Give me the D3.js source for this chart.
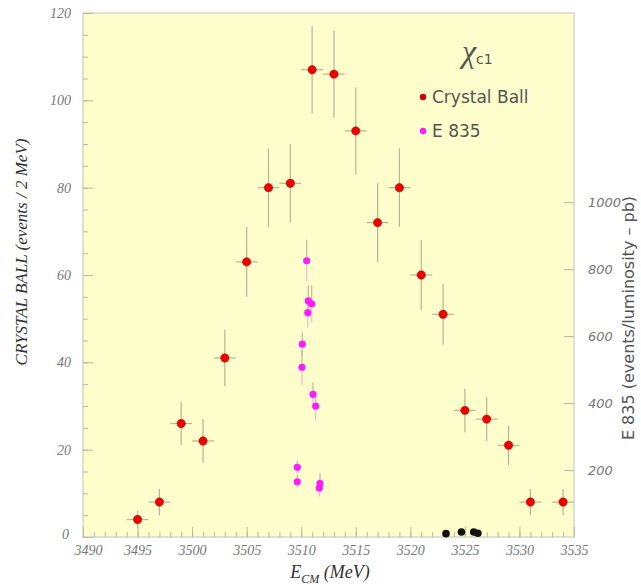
<!DOCTYPE html>
<html>
<head>
<meta charset="utf-8">
<script src="https://cdn.jsdelivr.net/npm/d3@7"></script>
<style>
  body { margin: 0; background: #fff; }
  svg { display: block; }
  .tick text { fill: #777; }
</style>
</head>
<body>
<div class="chart"></div>
<script>
// Crystal Ball: energy (MeV), events / 2 MeV, error
var cbEnergy = [3495, 3497, 3499, 3501, 3503, 3505, 3507, 3509, 3511, 3513, 3515, 3517, 3519, 3521, 3523, 3525, 3527, 3529, 3531, 3534];
var cbEvents = [4, 8, 26, 22, 41, 63, 80, 81, 107, 106, 93, 72, 80, 60, 51, 29, 27, 21, 8, 8];
var cbError  = [2, 3, 5, 5, 6.5, 8, 9, 9, 10, 10, 10, 9, 9, 8, 7, 5, 5, 4.5, 3, 3];

// E 835 scan: energy (MeV), events / luminosity (pb), error
var e835Energy = [3510.50, 3510.65, 3510.96, 3510.60, 3510.10, 3510.07, 3511.08, 3511.33, 3509.64, 3509.64, 3511.72, 3511.66];
var e835Value  = [825, 705, 696, 670, 576, 507, 426, 391, 208, 165, 160, 146];
var e835Error  = [63, 47, 55, 45, 35, 52, 36, 44, 20, 20, 30, 25];

// off-resonance points near the bottom
var offEnergy = [3523.27, 3524.68, 3525.81, 3526.19];
var offValue  = [10, 15, 15, 11];

var xTicks = [3490, 3495, 3500, 3505, 3510, 3515, 3520, 3525, 3530, 3535];
var yTicks = [0, 20, 40, 60, 80, 100, 120];
var y2Ticks = [200, 400, 600, 800, 1000];

var cb = cbEnergy.map(function(e, i) { return {e: e, v: cbEvents[i], err: cbError[i]}; });
var e835 = e835Energy.map(function(e, i) { return {e: e, v: e835Value[i], err: e835Error[i]}; });
var off = offEnergy.map(function(e, i) { return {e: e, v: offValue[i]}; });

var W = 641, H = 585;
var margin = {top: 13, right: 67, bottom: 48, left: 83};
var width = W - margin.left - margin.right;
var height = H - margin.top - margin.bottom;

var svg = d3.select(".chart").append("svg")
  .attr("width", W)
  .attr("height", H);

var g = svg.append("g")
  .attr("transform", "translate(" + margin.left + "," + margin.top + ")");

var x = d3.scaleLinear().domain([3490, 3535]).range([0, width]);
var y = d3.scaleLinear().domain([0, 120]).range([height, 0]);
var y2 = d3.scaleLinear().domain([0, 1565]).range([height, 0]);

// plot background
g.append("rect")
  .attr("width", width)
  .attr("height", height)
  .attr("fill", "#fefdcc")
  .attr("stroke", "#d6d6c8")
  .attr("stroke-width", 1.5);

var serif = "'Liberation Serif', 'DejaVu Serif', serif";
var sans = "'DejaVu Sans', 'Liberation Sans', sans-serif";
var fmt = d3.format("d");

// minor ticks
g.append("g")
  .call(d3.axisLeft(y).tickValues(d3.range(0, 121, 5)).tickSize(-5).tickFormat(""))
  .call(function(a) { a.select(".domain").remove(); a.selectAll("line").attr("stroke", "#b8b8a8"); });
g.append("g")
  .attr("transform", "translate(0," + height + ")")
  .call(d3.axisBottom(x).tickValues(d3.range(3490, 3536, 1)).tickSize(-5).tickFormat(""))
  .call(function(a) { a.select(".domain").remove(); a.selectAll("line").attr("stroke", "#b8b8a8"); });

// major axes
g.append("g")
  .call(d3.axisLeft(y).tickValues(yTicks).tickFormat(fmt).tickSizeInner(-10).tickSizeOuter(0).tickPadding(12))
  .call(function(a) {
    a.select(".domain").remove();
    a.selectAll("line").attr("stroke", "#b8b8a8");
    a.selectAll("text").attr("font-family", serif).attr("font-style", "italic").attr("font-size", 14);
    a.selectAll(".tick").filter(function(d) { return d === 0; }).select("text").attr("x", -14).attr("dy", "0.1em");
  });

g.append("g")
  .attr("transform", "translate(0," + height + ")")
  .call(d3.axisBottom(x).tickValues(xTicks).tickFormat(fmt).tickSizeInner(-10).tickSizeOuter(0).tickPadding(8))
  .call(function(a) {
    a.select(".domain").remove();
    a.selectAll("line").attr("stroke", "#b8b8a8");
    a.selectAll("text").attr("font-family", serif).attr("font-style", "italic").attr("font-size", 14);
    a.selectAll(".tick").filter(function(d) { return d === 3490; }).select("text").attr("x", 5);
  });

g.append("g")
  .attr("transform", "translate(" + width + ",0)")
  .call(d3.axisRight(y2).tickValues(y2Ticks).tickFormat(fmt).tickSizeInner(-10).tickSizeOuter(0).tickPadding(14))
  .call(function(a) {
    a.select(".domain").remove();
    a.selectAll("line").attr("stroke", "#b8b8a8");
    a.selectAll("text").attr("font-family", sans).attr("font-style", "italic").attr("font-size", 13).attr("fill", "#888");
  });

// Crystal Ball error bars
var cbBars = g.append("g").selectAll("g").data(cb).join("g");
cbBars.append("line")
  .attr("x1", function(d) { return x(d.e); })
  .attr("x2", function(d) { return x(d.e); })
  .attr("y1", function(d) { return y(d.v + d.err); })
  .attr("y2", function(d) { return y(d.v - d.err); })
  .attr("stroke", "#b8b596").attr("stroke-width", 1.2);
cbBars.append("line")
  .attr("x1", function(d) { return x(d.e - 1); })
  .attr("x2", function(d) { return x(d.e + 1); })
  .attr("y1", function(d) { return y(d.v); })
  .attr("y2", function(d) { return y(d.v); })
  .attr("stroke", "#b8b596").attr("stroke-width", 1.2);

// E835 error bars
var eBars = g.append("g").selectAll("g").data(e835).join("g");
eBars.append("line")
  .attr("x1", function(d) { return x(d.e); })
  .attr("x2", function(d) { return x(d.e); })
  .attr("y1", function(d) { return y2(d.v + d.err); })
  .attr("y2", function(d) { return y2(d.v); })
  .attr("stroke", "#bcb89e").attr("stroke-width", 1.2);
eBars.append("line")
  .attr("x1", function(d) { return x(d.e); })
  .attr("x2", function(d) { return x(d.e); })
  .attr("y1", function(d) { return y2(d.v); })
  .attr("y2", function(d) { return y2(d.v - d.err); })
  .attr("stroke", "#f4b8d8").attr("stroke-width", 1.2);

// markers
g.append("g").selectAll("circle").data(cb).join("circle")
  .attr("cx", function(d) { return x(d.e); })
  .attr("cy", function(d) { return y(d.v); })
  .attr("r", 4.2)
  .attr("fill", "#ec0000")
  .attr("stroke", "#b00000").attr("stroke-width", 0.5);

g.append("g").selectAll("circle").data(e835).join("circle")
  .attr("cx", function(d) { return x(d.e); })
  .attr("cy", function(d) { return y2(d.v); })
  .attr("r", 3.6)
  .attr("fill", "#ff1cff");

g.append("g").selectAll("circle").data(off).join("circle")
  .attr("cx", function(d) { return x(d.e); })
  .attr("cy", function(d) { return y2(d.v); })
  .attr("r", 3.8)
  .attr("fill", "#111");

// legend
var chi = svg.append("text")
  .attr("x", 462).attr("y", 62)
  .attr("fill", "#555");
chi.append("tspan").attr("font-family", serif).attr("font-style", "italic").attr("font-size", 32).text("χ");
chi.append("tspan").attr("font-family", sans).attr("font-size", 14).attr("dy", 2).text("c1");

var legend = [{label: "Crystal Ball", color: "#c80000", yy: 97}, {label: "E 835", color: "#ff1cff", yy: 131}];
legend.forEach(function(l) {
  svg.append("circle").attr("cx", 423).attr("cy", l.yy).attr("r", 3.2).attr("fill", l.color);
  svg.append("text")
    .attr("x", 432).attr("y", l.yy + 6)
    .attr("font-family", sans).attr("font-size", 17).attr("fill", "#555")
    .text(l.label);
});

// axis titles
var xt = svg.append("text")
  .attr("x", 330).attr("y", 578)
  .attr("text-anchor", "middle")
  .attr("font-family", serif).attr("font-style", "italic").attr("font-size", 18).attr("fill", "#333");
xt.append("tspan").text("E");
xt.append("tspan").attr("font-size", 12).attr("dy", 5).text("CM");
xt.append("tspan").attr("dy", -5).text(" (MeV)");

svg.append("text")
  .attr("transform", "translate(27,252) rotate(-90)")
  .attr("text-anchor", "middle")
  .attr("font-family", serif).attr("font-style", "italic").attr("font-size", 17).attr("fill", "#333")
  .text("CRYSTAL BALL (events / 2 MeV)");

svg.append("text")
  .attr("transform", "translate(634,318) rotate(-90)")
  .attr("text-anchor", "middle")
  .attr("font-family", sans).attr("font-size", 16).attr("fill", "#555")
  .text("E 835 (events/luminosity – pb)");
</script>
</body>
</html>
